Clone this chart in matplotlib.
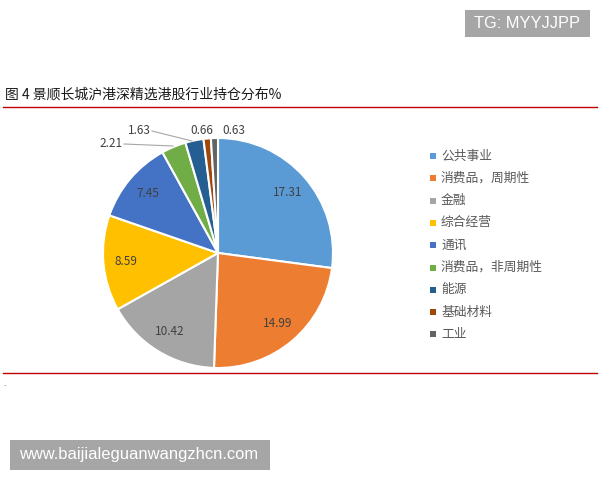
import numpy as np
import matplotlib.pyplot as plt
from matplotlib.patches import Rectangle

plt.rcParams['font.family'] = ['Noto Sans CJK SC', 'DejaVu Sans']

industries = ['公共事业', '消费品，周期性', '金融', '综合经营', '通讯',
              '消费品，非周期性', '能源', '基础材料', '工业']
weights = [17.31, 14.99, 10.42, 8.59, 7.45, 2.21, 1.63, 0.66, 0.63]
colors = ['#5B9BD5', '#ED7D31', '#A5A5A5', '#FFC000', '#4472C4',
          '#70AD47', '#255E91', '#9E480E', '#636363']
title = '图 4 景顺长城沪港深精选港股行业持仓分布%'

W, H = 600, 480
fig = plt.figure(figsize=(6, 4.8), dpi=100)

def fx(px):
    return px / W

def fy(py):
    return 1 - py / H

# pie axes: centre (218, 253), radius 115 px
ax = fig.add_axes([fx(103), fy(368), 230 / W, 230 / H])
wedges, _ = ax.pie(weights, colors=colors, startangle=90, counterclock=False,
                   wedgeprops=dict(edgecolor='white', linewidth=1.5))
ax.set_xlim(-1, 1)
ax.set_ylim(-1, 1)
ax.set_aspect('equal')
ax.axis('off')

lab_color = '#404040'
for i, w in enumerate(wedges):
    mid = np.deg2rad((w.theta1 + w.theta2) / 2)
    x, y = np.cos(mid), np.sin(mid)
    if weights[i] > 5:
        ax.text(0.8 * x, 0.8 * y, f'{weights[i]:.2f}', ha='center', va='center',
                fontsize=8.5, color=lab_color)

# small slices: labels outside with leader lines (positions in axes pixels)
def ax_pt(px, py):
    return ((px - 218) / 115, (253 - py) / 115)

outside = {5: (111, 143, 173, 146), 6: (139, 130, 192, 141),
           7: (202, 130, None, None), 8: (234, 130, None, None)}
for i, (tx, ty, lx, ly) in outside.items():
    t = ax_pt(tx, ty)
    ax.text(t[0], t[1], f'{weights[i]:.2f}', ha='center', va='center',
            fontsize=8.5, color=lab_color, clip_on=False)
    if lx is not None:
        s = ax_pt(tx + 13, ty + 1)
        e = ax_pt(lx, ly)
        ax.plot([s[0], e[0]], [s[1], e[1]], color='#A6A6A6', lw=0.8, clip_on=False)

# legend
for i, name in enumerate(industries):
    yy = 156 + i * 22.3
    fig.patches.append(Rectangle((fx(430), fy(yy + 3)), 6 / W, 6 / H,
                                 transform=fig.transFigure, facecolor=colors[i],
                                 edgecolor='none'))
    fig.text(fx(441), fy(yy), name, fontsize=9.2, color='#595959', va='center')

# title and rules
fig.text(fx(5), fy(95), title, fontsize=10, color='#1a1a1a', va='center')
fig.add_artist(plt.Line2D([fx(3), fx(597)], [fy(107), fy(107)], color='#C00000', lw=1))
fig.add_artist(plt.Line2D([fx(3), fx(597)], [fy(373), fy(373)], color='#C00000', lw=1))
fig.text(fx(3), fy(383), '.', fontsize=6, color='#404040', va='center')

# watermarks
fig.patches.append(Rectangle((fx(465), fy(37)), 125 / W, 27 / H,
                             transform=fig.transFigure, facecolor='#A6A6A6', edgecolor='none'))
fig.text(fx(527.5), fy(23.5), 'TG: MYYJJPP', fontsize=11.8, color='white',
         ha='center', va='center', family='Liberation Sans')
fig.patches.append(Rectangle((fx(10), fy(470)), 260 / W, 30 / H,
                             transform=fig.transFigure, facecolor='#A6A6A6', edgecolor='none'))
fig.text(fx(139), fy(455), 'www.baijialeguanwangzhcn.com', fontsize=11.9, color='white',
         ha='center', va='center', family='Liberation Sans')

fig.savefig('out.png', dpi=100)
